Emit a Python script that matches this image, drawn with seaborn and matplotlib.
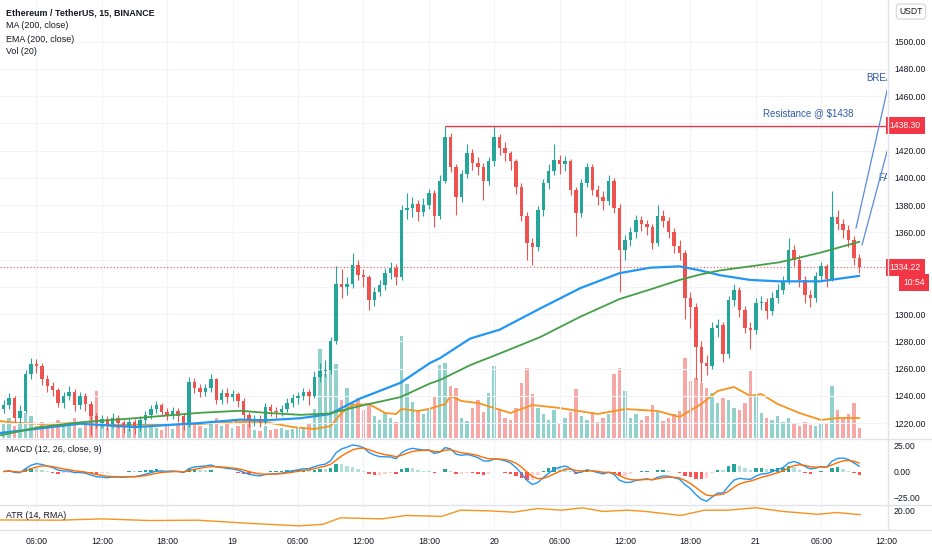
import numpy as np
import pandas as pd
import matplotlib
matplotlib.use("Agg")
import matplotlib.pyplot as plt
from matplotlib.lines import Line2D
from matplotlib.transforms import blended_transform_factory
import seaborn as sns

# ---------------------------------------------------------------
# data (30 min candles, hours from 18th 00:00)
# ---------------------------------------------------------------
start_hour = 3.0
candle_step = 0.5
first_open = 1230

closes = [1233, 1238, 1224, 1229, 1256, 1263, 1262, 1252, 1247, 1244,
          1235, 1240, 1243, 1233, 1240, 1234, 1225, 1220, 1223, 1219,
          1224, 1220, 1217, 1221, 1216, 1222, 1226, 1230, 1233, 1228,
          1226, 1229, 1225, 1219, 1250, 1246, 1243, 1246, 1252, 1237,
          1242, 1239, 1241, 1236, 1226, 1222, 1223, 1221, 1232, 1229,
          1228, 1230, 1235, 1238, 1240, 1243, 1240, 1254, 1258, 1259,
          1280, 1322, 1320, 1322, 1336, 1329, 1327, 1310, 1316, 1321,
          1330, 1334, 1327, 1376, 1378, 1381, 1375, 1380, 1389, 1372,
          1398, 1430, 1408, 1386, 1403, 1418, 1411, 1408, 1398, 1412,
          1430, 1422, 1418, 1412, 1393, 1372, 1352, 1349, 1376, 1396,
          1405, 1413, 1410, 1412, 1391, 1374, 1396, 1408, 1391, 1386,
          1383, 1398, 1378, 1347, 1354, 1360, 1369, 1366, 1364, 1352,
          1372, 1368, 1360, 1350, 1345, 1312, 1305, 1276, 1264, 1262,
          1290, 1292, 1271, 1310, 1318, 1303, 1290, 1288, 1308, 1309,
          1302, 1312, 1318, 1324, 1347, 1340, 1325, 1314, 1312, 1328,
          1335, 1326, 1371, 1366, 1362, 1354, 1341, 1334.22]

highs = [1237, 1242, 1240, 1233, 1259, 1268, 1267, 1264, 1255, 1250,
         1246, 1243, 1247, 1245, 1243, 1242, 1236, 1227, 1226, 1225,
         1227, 1226, 1222, 1224, 1223, 1225, 1229, 1233, 1236, 1235,
         1231, 1232, 1231, 1227, 1254, 1253, 1249, 1249, 1256, 1253,
         1245, 1246, 1244, 1243, 1238, 1228, 1226, 1226, 1235, 1234,
         1232, 1233, 1238, 1241, 1243, 1246, 1245, 1258, 1264, 1266,
         1283, 1335, 1333, 1327, 1345, 1340, 1333, 1329, 1320, 1325,
         1334, 1338, 1337, 1380, 1389, 1386, 1384, 1385, 1392, 1391,
         1402, 1438.3, 1433, 1410, 1406, 1425, 1421, 1415, 1411, 1415,
         1438, 1432, 1426, 1420, 1414, 1396, 1375, 1356, 1379, 1399,
         1410, 1425, 1417, 1416, 1414, 1393, 1399, 1411, 1410, 1395,
         1390, 1402, 1400, 1381, 1358, 1364, 1373, 1372, 1369, 1366,
         1380, 1376, 1371, 1363, 1354, 1347, 1316, 1308, 1280, 1270,
         1294, 1296, 1294, 1313, 1322, 1320, 1306, 1294, 1312, 1313,
         1312, 1316, 1322, 1328, 1356, 1351, 1343, 1328, 1318, 1331,
         1338, 1337, 1390, 1376, 1370, 1365, 1357, 1344]

lows = [1227, 1230, 1221, 1220, 1227, 1252, 1257, 1248, 1243, 1240,
        1232, 1231, 1237, 1229, 1230, 1229, 1211, 1216, 1216, 1215,
        1216, 1216, 1213, 1214, 1212, 1214, 1219, 1223, 1227, 1225,
        1222, 1223, 1221, 1215, 1217, 1242, 1239, 1240, 1243, 1234,
        1234, 1235, 1236, 1232, 1222, 1217, 1218, 1217, 1219, 1225,
        1224, 1225, 1228, 1232, 1234, 1237, 1233, 1238, 1250, 1254,
        1256, 1278, 1312, 1314, 1319, 1325, 1320, 1303, 1306, 1313,
        1318, 1326, 1321, 1325, 1370, 1371, 1368, 1372, 1377, 1364,
        1370, 1396, 1404, 1373, 1382, 1400, 1406, 1402, 1384, 1395,
        1409, 1417, 1412, 1406, 1388, 1368, 1340, 1336, 1346, 1372,
        1392, 1402, 1403, 1405, 1387, 1357, 1371, 1393, 1387, 1380,
        1376, 1380, 1374, 1316, 1340, 1350, 1356, 1361, 1358, 1348,
        1350, 1364, 1356, 1345, 1340, 1296, 1290, 1252, 1250, 1255,
        1260, 1283, 1265, 1268, 1306, 1298, 1286, 1274, 1285, 1303,
        1296, 1299, 1308, 1315, 1322, 1335, 1320, 1308, 1305, 1309,
        1325, 1320, 1324, 1362, 1356, 1349, 1336, 1330]

volumes = [14, 20, 12, 16, 25, 22, 12, 16, 10, 14,
           18, 12, 15, 20, 10, 14, 30, 47, 12, 10,
           14, 11, 16, 9, 13, 18, 12, 15, 10, 8,
           12, 9, 14, 22, 28, 15, 12, 10, 16, 20,
           12, 14, 10, 12, 18, 14, 8, 7, 12, 8,
           9, 10, 8, 9, 11, 10, 14, 29, 89, 64,
           90, 74, 38, 50, 35, 40, 28, 34, 22, 18,
           25, 20, 16, 102, 54, 36, 28, 24, 30, 42,
           73, 75, 52, 50, 20, 17, 30, 38, 26, 45,
           72, 28, 20, 18, 30, 55, 70, 44, 30, 24,
           18, 28, 15, 20, 26, 49, 22, 18, 26, 16,
           20, 24, 64, 70, 47, 20, 24, 18, 22, 33,
           26, 17, 20, 24, 27, 80, 57, 60, 55, 50,
           45, 35, 40, 38, 30, 28, 35, 67, 44, 25,
           20, 18, 22, 16, 20, 14, 12, 16, 13, 12,
           15, 14, 52, 28, 20, 24, 35, 10]

# moving averages
ma_hours = [2.7, 6.3, 10.0, 15.0, 21.0, 24.7, 27.0, 30.2, 32.9, 35.7, 39.4, 42.1, 43.0,
            45.8, 48.5, 52.2, 55.9, 59.5, 62.3, 65.0, 66.9, 68.7, 71.5, 74.2, 77.9, 81.5]
ma200 = [1212.7, 1216, 1219.5, 1217, 1220, 1222.5, 1222, 1223.5, 1226.5, 1238, 1249.5, 1264, 1267.5,
         1282, 1288.5, 1304, 1319, 1330, 1334, 1335, 1332, 1328.5, 1325, 1324, 1324, 1328]
ema200 = [1211, 1217, 1220.5, 1223.5, 1227.5, 1229, 1227.5, 1226, 1227, 1232.5, 1239, 1249, 1251.5,
          1262.5, 1271, 1283, 1298, 1311, 1318, 1325, 1329, 1332, 1335, 1338, 1345, 1353]

volma_hours = [2.5, 4.5, 6.5, 10, 13.5, 17.5, 21, 24, 27, 29.5, 31.5, 33, 34, 35, 36.5, 38, 39,
               39.5, 41, 42, 43.5, 44, 45, 46.5, 49.5, 51.5, 54, 57.5, 60, 63, 65, 67, 68.5,
               70, 71.5, 72.5, 74, 76, 78, 79.5, 81.5]
vol_ma = [17, 15, 14, 15, 13, 14, 14, 16, 16, 11, 9, 12, 25, 33, 34, 25, 24,
          29, 27, 29, 34, 42, 37, 35, 25, 33, 30, 24, 29, 27, 21, 34, 47,
          51, 42, 44, 34, 25, 18, 20, 20]

atr_hours = [2.7, 8.1, 12.0, 16.4, 20.8, 25.7, 30.1, 32.3, 33.9, 37.7, 39.9, 43.2, 44.9, 47.6,
             49.8, 52.0, 54.2, 56.1, 58.0, 60.2, 61.9, 65.1, 67.3, 69.5, 72.0, 74.5, 77.7, 79.4, 81.6]
atr = [11.7, 11.5, 12.6, 11.2, 11.5, 8.7, 6.7, 8, 13.5, 12.6, 15.5, 14.7, 20, 19.4,
       18.3, 21.4, 20, 22, 18.9, 20, 18.9, 15.5, 20, 20, 22.1, 18.9, 16.5, 18, 16.2]

tick_hours = [6, 12, 18, 24, 30, 36, 42, 48, 54, 60, 66, 72, 78, 84]
tick_labels = ['06:00', '12:00', '18:00', '19', '06:00', '12:00', '18:00', '20',
               '06:00', '12:00', '18:00', '21', '06:00', '12:00']
price_ticks = list(range(1220, 1501, 20))
# scale labels covered by the price boxes
hidden_ticks = [1320, 1340, 1440]
last_price = 1334.22
countdown = '10:54'

# ---------------------------------------------------------------
# styling
# ---------------------------------------------------------------
sns.set_theme(style='white')
plt.rcParams['font.family'] = ['Liberation Sans', 'DejaVu Sans']

UP = '#26a69a'
DOWN = '#ef5350'
TXT = '#131722'
GRID = '#f0f3fa'
SEP = '#e0e3eb'
DRAW = '#2e5aa8'
W, H = 932, 550

df = pd.DataFrame({'close': closes, 'high': highs, 'low': lows, 'volume': volumes})
df['hour'] = start_hour + candle_step * np.arange(len(df))
df['open'] = df['close'].shift(1).fillna(first_open)
rising = df['close'] >= df['open']
candle_colors = np.where(rising, UP, DOWN)

# MACD 12/26/9 on 15 min bars ~ 6/13/4.5 on 30 min bars
macd = df['close'].ewm(span=6, adjust=False).mean() - df['close'].ewm(span=13, adjust=False).mean()
signal = macd.ewm(span=4.5, adjust=False).mean()
hist = macd - signal
prev = hist.shift(1).fillna(0)
hist_colors = np.where(hist >= 0,
                       np.where(hist >= prev, '#26a69a', '#b2dfdb'),
                       np.where(hist < prev, '#ff5252', '#ffcdd2'))

fig = plt.figure(figsize=(W / 100, H / 100), dpi=100)
fig.patch.set_facecolor('white')


def px_axes(left, top, right, bottom):
    return fig.add_axes([left / W, 1 - bottom / H, (right - left) / W, (bottom - top) / H])


ax = px_axes(0, 0, 887, 438)
ax_macd = px_axes(0, 439, 887, 504)
ax_atr = px_axes(0, 505, 887, 529)
xlim = (29 / 10.9, 916 / 10.9)

# volume pane behind the price
ax_vol = ax.twinx()
ax.set_zorder(ax_vol.get_zorder() + 1)
ax.patch.set_visible(False)
ax_vol.bar(df['hour'], df['volume'], width=0.32, color=candle_colors, alpha=0.5, linewidth=0)
sns.lineplot(x=volma_hours, y=vol_ma, ax=ax_vol, color='#f7931e', linewidth=1.3)
ax_vol.set_ylim(0, 438)
ax_vol.set_yticks([])
ax_vol.set_xlim(*xlim)

# candles
ax.vlines(df['hour'], df['low'], df['high'], colors=candle_colors, linewidth=0.8, zorder=2)
body = (df['close'] - df['open']).abs().clip(lower=0.6)
ax.bar(df['hour'], body, bottom=df[['open', 'close']].min(axis=1), width=0.32,
       color=candle_colors, linewidth=0, zorder=2)

sns.lineplot(x=ma_hours, y=ma200, ax=ax, color='#2196f3', linewidth=1.6, zorder=3)
sns.lineplot(x=ma_hours, y=ema200, ax=ax, color='#43a047', linewidth=1.3, zorder=3)

# resistance and current price
top_idx = int(df['high'].idxmax())
ax.hlines(df['high'].max(), df['hour'][top_idx], xlim[1], color='#f23645', linewidth=1, zorder=3)
ax.axhline(last_price, color=DOWN, linestyle=(0, (1, 2)), linewidth=0.8, zorder=1)
ax.text(72.66, 1447.5, 'Resistance @ $1438', color=DRAW, fontsize=7, va='center', ha='left')

# projection drawings at the right edge (labels cut by the scale)
ax.plot([81.19, 84.1], [1363, 1466], color='#5b8bd9', linewidth=0.9, zorder=4)
ax.plot([81.74, 84.1], [1350.6, 1421], color='#5b8bd9', linewidth=0.9, zorder=4)
ax.text(82.15, 1473, 'BREA', color=DRAW, fontsize=7, va='center', ha='left', clip_on=True)
ax.text(83.2, 1400, 'FA', color=DRAW, fontsize=7, va='center', ha='left', clip_on=True)

ax.set_xlim(*xlim)
ax.set_ylim(1209, 1530.5)
ax.yaxis.tick_right()
ax.set_yticks(price_ticks)
ax.set_yticklabels(['' if p in hidden_ticks else f'{p:.2f}' for p in price_ticks])
ax.set_xticks(tick_hours)
ax.tick_params(axis='y', length=0, pad=5, labelsize=6.2, labelcolor=TXT)
ax.tick_params(axis='x', length=0, labelbottom=False)
ax.grid(True, color=GRID, linewidth=0.8)
ax.set_axisbelow(True)

# price boxes on the scale
ytrans = blended_transform_factory(ax.transAxes, ax.transData)
ax.text(1.003, df['high'].max(), f"{df['high'].max():.2f}", transform=ytrans, fontsize=6.2,
        color='white', va='center', ha='left', zorder=10, clip_on=False,
        bbox=dict(boxstyle='square,pad=0.45', fc='#f23645', ec='none'))
ax.text(1.003, last_price, f'{last_price:.2f}', transform=ytrans, fontsize=6.2,
        color='white', va='center', ha='left', zorder=10, clip_on=False,
        bbox=dict(boxstyle='square,pad=0.45', fc='#f23645', ec='none'))
ax.annotate(countdown, xy=(1.0, last_price), xycoords=ytrans, xytext=(16, -15),
            textcoords='offset pixels', fontsize=6.2, color='white', va='center', ha='left',
            zorder=10, annotation_clip=False,
            bbox=dict(boxstyle='square,pad=0.45', fc='#f23645', ec='none'))

# legend texts
ax.text(6 / 887, 1 - 13 / 438, 'Ethereum / TetherUS, 15, BINANCE', transform=ax.transAxes,
        fontsize=6.4, fontweight='bold', color=TXT, va='center')
for i, lab in enumerate(['MA (200, close)', 'EMA (200, close)', 'Vol (20)']):
    ax.text(6 / 887, 1 - (26 + 13 * i) / 438, lab, transform=ax.transAxes,
            fontsize=6.4, color=TXT, va='center')
fig.text(911 / W, 1 - 11.5 / H, 'USDT', fontsize=6.2, color=TXT, ha='center', va='center',
         bbox=dict(boxstyle='round,pad=0.35', fc='white', ec='#d1d4dc', lw=0.8))

# MACD pane
ax_macd.bar(df['hour'], hist, width=0.32, color=hist_colors, linewidth=0)
sns.lineplot(x=df['hour'], y=macd, ax=ax_macd, color='#2196f3', linewidth=1)
sns.lineplot(x=df['hour'], y=signal, ax=ax_macd, color='#ff6d00', linewidth=1)
ax_macd.set_xlim(*xlim)
ax_macd.set_ylim(-30.7, 30.7)
ax_macd.yaxis.tick_right()
ax_macd.set_yticks([-25, 0, 25])
ax_macd.set_yticklabels(['\u221225.00', '0.00', '25.00'])
ax_macd.set_xticks(tick_hours)
ax_macd.tick_params(axis='y', length=0, pad=5, labelsize=6.2, labelcolor=TXT)
ax_macd.tick_params(axis='x', length=0, labelbottom=False)
ax_macd.grid(True, axis='x', color=GRID, linewidth=0.8)
ax_macd.set_axisbelow(True)
ax_macd.text(6 / 887, 1 - 10 / 65, 'MACD (12, 26, close, 9)', transform=ax_macd.transAxes,
             fontsize=6.4, color=TXT, va='center')

# ATR pane
sns.lineplot(x=atr_hours, y=atr, ax=ax_atr, color='#f7931e', linewidth=1)
ax_atr.set_xlim(*xlim)
ax_atr.set_ylim(4, 24.4)
ax_atr.yaxis.tick_right()
ax_atr.set_yticks([20])
ax_atr.set_yticklabels(['20.00'])
ax_atr.set_xticks(tick_hours)
ax_atr.set_xticklabels(tick_labels)
ax_atr.tick_params(axis='y', length=0, pad=5, labelsize=6.2, labelcolor=TXT)
ax_atr.tick_params(axis='x', length=0, pad=5.5, labelsize=6.3, labelcolor=TXT)
ax_atr.grid(True, axis='x', color=GRID, linewidth=0.8)
ax_atr.set_axisbelow(True)
ax_atr.text(6 / 887, 1 - 11 / 24, 'ATR (14, RMA)', transform=ax_atr.transAxes,
            fontsize=6.4, color=TXT, va='center')

for a in (ax, ax_vol, ax_macd, ax_atr):
    a.set_xlabel('')
    a.set_ylabel('')
    for s in a.spines.values():
        s.set_visible(False)

# pane separators
for y in (438.5, 504.5, 529.5):
    fig.add_artist(Line2D([0, 1], [1 - y / H] * 2, color=SEP, linewidth=1, transform=fig.transFigure))
fig.add_artist(Line2D([887.5 / W] * 2, [1 - 529.5 / H, 1], color=SEP, linewidth=1, transform=fig.transFigure))

fig.savefig('out.png', dpi=100, facecolor='white')
